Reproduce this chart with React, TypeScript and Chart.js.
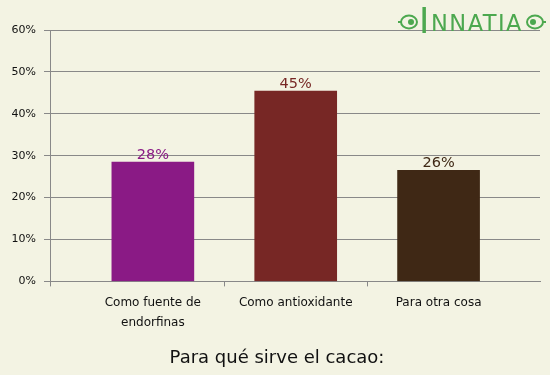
import React, { useEffect, useRef } from 'react';
import { Chart, registerables } from 'chart.js';

Chart.register(...registerables);

// ---- data ----
const categories: string[][] = [['Como fuente de', 'endorfinas'], ['Como antioxidante'], ['Para otra cosa']];
const values: number[] = [28.5, 45.4, 26.5];
const valueLabels: string[] = ['28%', '45%', '26%'];
const barColors: string[] = ['#8A1A85', '#772725', '#3F2815'];
const yTickValues: number[] = [0, 10, 20, 30, 40, 50, 60];
const chartTitle = 'Para qué sirve el cacao:';
const logoFirst = 'I';
const logoRest = 'NNATIA';

const X_MIN = -0.72;
const X_MAX = 2.71;
const FONT = '"DejaVu Sans", Verdana, sans-serif';
const BG = '#F3F3E3';
const GRID = '#888888';

const valueLabelPlugin = {
  id: 'valueLabels',
  afterDatasetsDraw(chart: any) {
    const ctx = chart.ctx;
    const meta = chart.getDatasetMeta(0);
    ctx.save();
    ctx.font = `14.5px ${FONT}`;
    ctx.textAlign = 'center';
    ctx.textBaseline = 'alphabetic';
    meta.data.forEach((el: any, i: number) => {
      ctx.fillStyle = barColors[i];
      ctx.fillText(valueLabels[i], el.x, el.y - 3);
    });
    ctx.restore();
  },
};

const logoPlugin = {
  id: 'logo',
  afterDraw(chart: any) {
    const ctx = chart.ctx;
    ctx.save();
    const green = '#4CA84F';
    ctx.fillStyle = green;
    ctx.strokeStyle = green;
    ctx.textBaseline = 'alphabetic';
    ctx.textAlign = 'left';
    ctx.font = `35px ${FONT}`;
    ctx.fillText(logoFirst, 419, 33);
    ctx.font = `23px ${FONT}`;
    try {
      (ctx as any).letterSpacing = '1.5px';
    } catch (e) {}
    ctx.fillText(logoRest, 431, 31, 92);
    try {
      (ctx as any).letterSpacing = '0px';
    } catch (e) {}
    // ornaments
    ctx.lineWidth = 2;
    const orn = (cx: number, dir: number) => {
      ctx.beginPath();
      ctx.ellipse(cx, 22, 8, 6.5, 0, 0, Math.PI * 2);
      ctx.stroke();
      ctx.beginPath();
      ctx.arc(cx + dir * 2, 22, 3, 0, Math.PI * 2);
      ctx.fill();
      ctx.beginPath();
      ctx.moveTo(cx - dir * 8, 22);
      ctx.lineTo(cx - dir * 11, 22);
      ctx.stroke();
    };
    orn(409, 1);
    orn(535, -1);
    ctx.restore();
  },
};

export default function App() {
  const ref = useRef<HTMLCanvasElement | null>(null);

  useEffect(() => {
    document.body.style.margin = '0';
    document.body.style.background = BG;
    if (!ref.current) return;
    const chart = new Chart(ref.current, {
      type: 'bar',
      data: {
        datasets: [
          {
            data: values.map((v, i) => ({ x: i, y: v })),
            backgroundColor: barColors,
            borderWidth: 0,
            barThickness: 82,
          },
        ],
      },
      options: {
        animation: false,
        responsive: false,
        layout: { padding: { top: 30, right: 0, left: 4, bottom: 0 } },
        plugins: {
          legend: { display: false },
          tooltip: { enabled: false },
          title: {
            display: true,
            text: chartTitle,
            position: 'bottom',
            color: '#111111',
            font: { family: FONT, size: 18, weight: 'normal' },
            padding: { top: 10, bottom: 6 },
          },
        },
        scales: {
          x: {
            type: 'linear',
            position: 'bottom',
            offset: false,
            min: X_MIN,
            max: X_MAX,
            afterBuildTicks: (scale: any) => {
              scale.ticks = [X_MIN, 0, 0.5, 1, 1.5, 2].map((v) => ({ value: v }));
            },
            afterFit: (scale: any) => {
              scale.height = 56;
            },
            grid: {
              offset: false,
              drawOnChartArea: false,
              tickLength: 5,
              color: GRID,
              tickColor: (ctx: any) =>
                ctx.tick && Number.isInteger(ctx.tick.value) ? 'rgba(0,0,0,0)' : GRID,
            },
            border: { display: true, color: GRID },
            ticks: {
              autoSkip: false,
              maxRotation: 0,
              minRotation: 0,
              padding: 6,
              color: '#111111',
              font: { family: FONT, size: 12, lineHeight: 20 / 12 },
              callback: (v: any) => (Number.isInteger(v) && categories[v] ? categories[v] : ''),
            },
          },
          y: {
            min: 0,
            max: 60,
            afterBuildTicks: (scale: any) => {
              scale.ticks = yTickValues.map((v) => ({ value: v }));
            },
            afterFit: (scale: any) => {
              scale.width = 46;
            },
            grid: { color: GRID, tickLength: 6 },
            border: { display: true, color: GRID },
            ticks: {
              padding: 8,
              color: '#111111',
              font: { family: FONT, size: 11 },
              callback: (v: any) => `${v}%`,
            },
          },
          yRight: {
            type: 'linear',
            position: 'right',
            min: 0,
            max: 60,
            afterFit: (scale: any) => {
              scale.width = 10;
            },
            grid: { drawOnChartArea: false, drawTicks: false },
            border: { display: false },
            ticks: { display: false },
          },
        },
      },
      plugins: [valueLabelPlugin, logoPlugin],
    } as any);
    return () => chart.destroy();
  }, []);

  return (
    <div style={{ position: 'absolute', left: 0, top: 0, width: 550, height: 375, background: BG }}>
      <canvas ref={ref} width={550} height={375} />
    </div>
  );
}
